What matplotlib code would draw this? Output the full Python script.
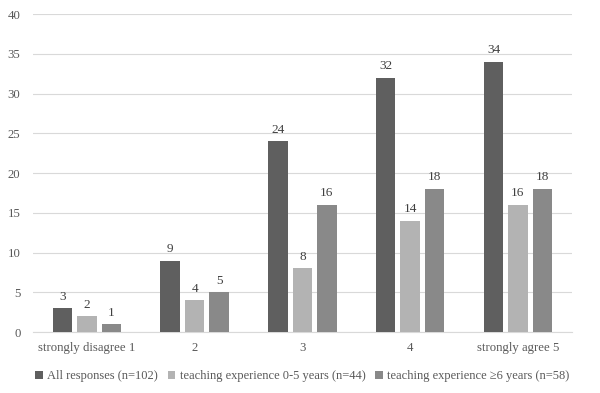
import numpy as np
import matplotlib
matplotlib.use("Agg")
import matplotlib.pyplot as plt

categories = ["strongly disagree 1", "2", "3", "4", "strongly agree 5"]
series_names = ["All responses (n=102)",
                "teaching experience 0-5 years (n=44)",
                "teaching experience \u22656 years (n=58)"]
all_resp = [3, 9, 24, 32, 34]
exp_0_5 = [2, 4, 8, 14, 16]
exp_6 = [1, 5, 16, 18, 18]
colors = ["#5f5f5f", "#b3b3b3", "#898989"]

plt.rcParams["font.family"] = ["Liberation Serif", "DejaVu Serif"]
text_color = "#595959"

fig = plt.figure(figsize=(6, 3.93), dpi=100)
ax = fig.add_axes([0.055, 0.155, 0.898, 0.809])

x = np.arange(len(categories))
width = 0.18
step = 0.227
for i, (vals, name) in enumerate(zip([all_resp, exp_0_5, exp_6], series_names)):
    bars = ax.bar(x + (i - 1) * step, vals, width, color=colors[i], label=name, zorder=3)
    ax.bar_label(bars, padding=4, fontsize=9.5, color="#404040")

ax.set_xlim(-0.5, len(categories) - 0.5)
ax.set_ylim(0, 40)
ax.set_yticks(range(0, 41, 5))
ax.set_xticks(x)
ax.set_xticklabels(categories)
ax.tick_params(axis="both", length=0, labelsize=9.2, colors=text_color)
ax.tick_params(axis="x", pad=7)
ax.tick_params(axis="y", pad=9)
ax.grid(axis="y", color="#d9d9d9", linewidth=0.8, zorder=0)
for s in ["top", "right", "left"]:
    ax.spines[s].set_visible(False)
ax.spines["bottom"].set_color("#d9d9d9")

ax.legend(loc="upper center", bbox_to_anchor=(0.5, -0.085), ncol=3, frameon=False,
          fontsize=9.0, labelcolor=text_color, handlelength=0.6, handleheight=0.6,
          handletextpad=0.35, columnspacing=0.8)

fig.savefig("out.png", dpi=100)
